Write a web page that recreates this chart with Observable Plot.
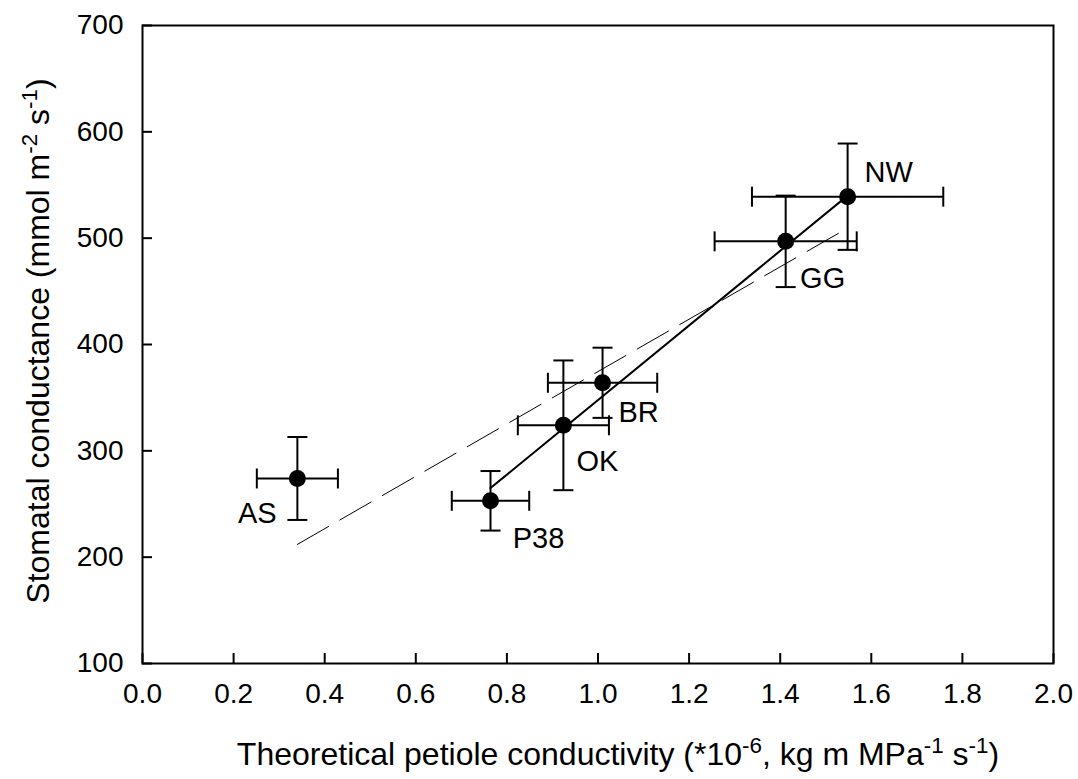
<!DOCTYPE html>
<html><head><meta charset="utf-8">
<script src="https://cdn.jsdelivr.net/npm/d3@7"></script>
<script src="https://cdn.jsdelivr.net/npm/@observablehq/plot@0.6"></script>
<style>body{margin:0;background:#fff} svg{display:block}</style>
</head><body><div id="chart"></div>
<script>
// ---- data ----
const sites = ["AS", "P38", "OK", "BR", "GG", "NW"];
const petioleCond = [0.340, 0.764, 0.924, 1.010, 1.412, 1.548];
const petioleCondErr = [0.089, 0.085, 0.100, 0.120, 0.156, 0.210];
const stomatalCond = [274, 253, 324, 364, 497, 539];
const stomatalCondErr = [39, 28, 61, 33, 43, 50];
const fitAllX = [0.34, 1.55];
const fitAllY = [212, 510];
const fitSubX = [0.764, 1.548];
const fitSubY = [265, 540];
const xTicks = [0, 0.2, 0.4, 0.6, 0.8, 1.0, 1.2, 1.4, 1.6, 1.8, 2.0];
const yTicks = [100, 200, 300, 400, 500, 600, 700];

// ---- layout ----
const W = 1078, H = 779, mL = 142, mR = 25, mT = 25, mB = 116;
const innerW = W - mL - mR, innerH = H - mT - mB;
const labelOffsets = {AS: [-40, 35], P38: [48, 38], OK: [34, 36], BR: [36, 30], GG: [37, 37], NW: [41, -24]};
const FONT = "'Liberation Sans', Arial, sans-serif";

const rows = sites.map((s, i) => ({site: s, x: petioleCond[i], xe: petioleCondErr[i], y: stomatalCond[i], ye: stomatalCondErr[i]}));
const fitAll = fitAllX.map((x, i) => ({x, y: fitAllY[i]}));
const fitSub = fitSubX.map((x, i) => ({x, y: fitSubY[i]}));

const capH = {draw(ctx, size) { const r = Math.sqrt(size / Math.PI); ctx.moveTo(-r, 0); ctx.lineTo(r, 0); }};
const capV = {draw(ctx, size) { const r = Math.sqrt(size / Math.PI); ctx.moveTo(0, -r); ctx.lineTo(0, r); }};

const plot = Plot.plot({
  width: W, height: H,
  marginLeft: mL, marginRight: mR, marginTop: mT, marginBottom: mB,
  style: {fontFamily: FONT, background: "white", color: "black"},
  x: {domain: [0, 2], axis: null},
  y: {domain: [100, 700], axis: null},
  marks: [
    Plot.frame({stroke: "black", strokeWidth: 2}),
    Plot.tickX(xTicks, {x: d => d, insetTop: innerH - 10, stroke: "black", strokeWidth: 2}),
    Plot.tickY(yTicks, {y: d => d, insetRight: innerW - 10, stroke: "black", strokeWidth: 2}),
    Plot.axisX({ticks: xTicks, tickSize: 0, tickPadding: 20, tickFormat: d3.format(".1f"), label: null, fontSize: 28}),
    Plot.axisY({ticks: yTicks, tickSize: 0, tickPadding: 19, label: null, fontSize: 28}),
    Plot.line(fitAll, {x: "x", y: "y", stroke: "black", strokeWidth: 1, strokeDasharray: "36,13"}),
    Plot.line(fitSub, {x: "x", y: "y", stroke: "black", strokeWidth: 2}),
    Plot.ruleY(rows, {y: "y", x1: d => d.x - d.xe, x2: d => d.x + d.xe, stroke: "black", strokeWidth: 2}),
    Plot.ruleX(rows, {x: "x", y1: d => d.y - d.ye, y2: d => d.y + d.ye, stroke: "black", strokeWidth: 2}),
    Plot.dot(rows, {x: d => d.x - d.xe, y: "y", symbol: capV, r: 10, stroke: "black", strokeWidth: 2, fill: "none"}),
    Plot.dot(rows, {x: d => d.x + d.xe, y: "y", symbol: capV, r: 10, stroke: "black", strokeWidth: 2, fill: "none"}),
    Plot.dot(rows, {x: "x", y: d => d.y - d.ye, symbol: capH, r: 10, stroke: "black", strokeWidth: 2, fill: "none"}),
    Plot.dot(rows, {x: "x", y: d => d.y + d.ye, symbol: capH, r: 10, stroke: "black", strokeWidth: 2, fill: "none"}),
    Plot.dot(rows, {x: "x", y: "y", r: 8.5, fill: "black", stroke: "none"}),
    ...rows.map(r => Plot.text([r], {x: "x", y: "y", text: "site", dx: labelOffsets[r.site][0], dy: labelOffsets[r.site][1], fontSize: 29, fill: "black"}))
  ]
});

const svg = d3.select(plot);
// y-axis title
const yt = svg.append("text")
  .attr("transform", "translate(49,341) rotate(-90)")
  .attr("text-anchor", "middle").attr("font-size", 32).attr("font-family", FONT).attr("fill", "black");
yt.append("tspan").text("Stomatal conductance (mmol m");
yt.append("tspan").attr("dy", "-0.55em").attr("font-size", "0.7em").text("-2");
yt.append("tspan").attr("dy", "0.385em").text(" s");
yt.append("tspan").attr("dy", "-0.55em").attr("font-size", "0.7em").text("-1");
yt.append("tspan").attr("dy", "0.385em").text(")");
// x-axis title
const xt = svg.append("text")
  .attr("transform", "translate(618,765)")
  .attr("text-anchor", "middle").attr("font-size", 32).attr("font-family", FONT).attr("fill", "black");
xt.append("tspan").text("Theoretical petiole conductivity (*10");
xt.append("tspan").attr("dy", "-0.55em").attr("font-size", "0.7em").text("-6");
xt.append("tspan").attr("dy", "0.385em").text(", kg m MPa");
xt.append("tspan").attr("dy", "-0.55em").attr("font-size", "0.7em").text("-1");
xt.append("tspan").attr("dy", "0.385em").text(" s");
xt.append("tspan").attr("dy", "-0.55em").attr("font-size", "0.7em").text("-1");
xt.append("tspan").attr("dy", "0.385em").text(")");

document.getElementById("chart").appendChild(plot);
</script>
</body></html>
